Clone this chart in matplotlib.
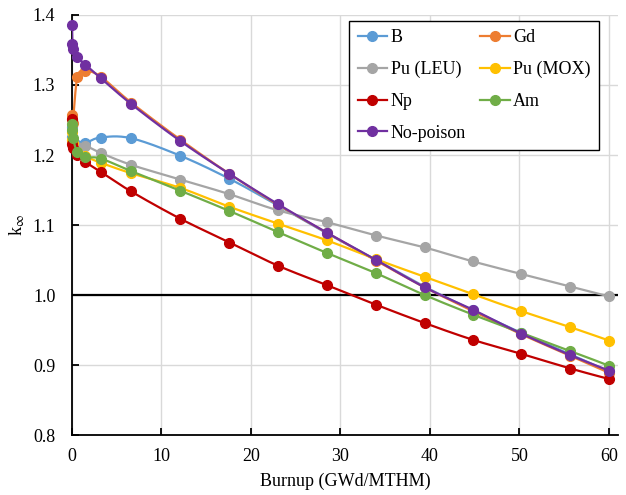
import numpy as np
import matplotlib
matplotlib.use("Agg")
import matplotlib.pyplot as plt
from matplotlib.lines import Line2D

plt.rcParams['font.family'] = ['Liberation Serif', 'DejaVu Serif']
plt.rcParams['mathtext.fontset'] = 'stix'

burnup = [0, 0.05, 0.1, 0.6, 1.5, 3.2, 6.6, 12.1, 17.6, 23.0, 28.5, 34.0, 39.4, 44.8, 50.2, 55.7, 60.0]

series_names = ["B", "Gd", "Pu (LEU)", "Pu (MOX)", "Np", "Am", "No-poison"]
k_B = [1.240, 1.226, 1.221, 1.215, 1.217, 1.225, 1.224, 1.199, 1.166, 1.128, 1.088, 1.050, 1.012, 0.978, 0.946, 0.915, 0.891]
k_Gd = [1.257, 1.251, 1.246, 1.311, 1.320, 1.312, 1.275, 1.222, 1.173, 1.129, 1.089, 1.049, 1.011, 0.977, 0.944, 0.913, 0.889]
k_PuLEU = [1.222, 1.216, 1.213, 1.211, 1.213, 1.203, 1.186, 1.165, 1.144, 1.121, 1.104, 1.085, 1.068, 1.048, 1.030, 1.012, 0.998]
k_PuMOX = [1.233, 1.222, 1.217, 1.205, 1.198, 1.189, 1.174, 1.153, 1.126, 1.102, 1.078, 1.051, 1.026, 1.001, 0.977, 0.954, 0.935]
k_Np = [1.252, 1.216, 1.210, 1.200, 1.190, 1.176, 1.148, 1.109, 1.075, 1.042, 1.014, 0.986, 0.960, 0.936, 0.916, 0.895, 0.880]
k_Am = [1.245, 1.236, 1.225, 1.204, 1.197, 1.195, 1.177, 1.149, 1.120, 1.090, 1.060, 1.031, 1.000, 0.972, 0.946, 0.920, 0.899]
k_None = [1.386, 1.358, 1.352, 1.340, 1.329, 1.310, 1.273, 1.220, 1.173, 1.130, 1.089, 1.050, 1.011, 0.979, 0.945, 0.914, 0.892]

colors = ["#5B9BD5", "#ED7D31", "#A5A5A5", "#FFC000", "#C00000", "#70AD47", "#7030A0"]
all_k = [k_B, k_Gd, k_PuLEU, k_PuMOX, k_Np, k_Am, k_None]

fig = plt.figure(figsize=(6.26, 4.95), dpi=100)
ax = fig.add_axes([0.115, 0.1212, 0.872, 0.8485])
ax.set_xlim(0, 61)
ax.set_ylim(0.8, 1.4)

ax.set_xticks([0, 10, 20, 30, 40, 50, 60])
ax.set_yticks([0.8, 0.9, 1.0, 1.1, 1.2, 1.3, 1.4])
ax.set_yticklabels([f"{v:.1f}" for v in [0.8, 0.9, 1.0, 1.1, 1.2, 1.3, 1.4]])
ax.grid(True, color="#D9D9D9", linewidth=1.0)
ax.set_axisbelow(True)
for s in ["top", "right"]:
    ax.spines[s].set_visible(False)
for s in ["left", "bottom"]:
    ax.spines[s].set_linewidth(1.3)
    ax.spines[s].set_color("black")
ax.tick_params(axis="both", direction="in", length=5, width=1.3, labelsize=13)
ax.tick_params(axis="y", pad=12)
ax.tick_params(axis="x", pad=9)

ax.axhline(1.0, color="black", linewidth=1.6, zorder=1.5)


def smooth(xs, ys, nseg=24):
    pts = ax.transData.transform(np.column_stack([xs, ys]))
    n = len(pts)
    out = [pts[0]]
    t = np.linspace(0, 1, nseg)[1:]
    for i in range(n - 1):
        p0 = pts[i - 1] if i > 0 else pts[i]
        p1 = pts[i]
        p2 = pts[i + 1]
        p3 = pts[i + 2] if i + 2 < n else pts[i + 1]
        c1 = p1 + (p2 - p0) / 6.0
        c2 = p2 - (p3 - p1) / 6.0
        seg = (((1 - t) ** 3)[:, None] * p1 + (3 * (1 - t) ** 2 * t)[:, None] * c1
               + (3 * (1 - t) * t ** 2)[:, None] * c2 + (t ** 3)[:, None] * p2)
        out.extend(seg)
    return ax.transData.inverted().transform(np.array(out))


handles = []
for idx, (name, ks, c) in enumerate(zip(series_names, all_k, colors)):
    z = 3 + idx
    cur = smooth(burnup, ks)
    ax.plot(cur[:, 0], cur[:, 1], color=c, linewidth=1.6, zorder=z, solid_capstyle="round")
    ax.plot(burnup, ks, linestyle="none", marker="o", markersize=7, color=c,
            markeredgecolor=c, zorder=z, clip_on=False)
    handles.append(Line2D([], [], color=c, linewidth=1.6, marker="o", markersize=7))

# row-wise ordering for a 2-column legend (matplotlib fills column by column)
order = [0, 2, 4, 6, 1, 3, 5]
leg = ax.legend([handles[i] for i in order], [series_names[i] for i in order],
                ncol=2, loc="upper right",
                bbox_to_anchor=(0.965, 0.986), borderaxespad=0.0,
                fontsize=13, frameon=True,
                fancybox=False, edgecolor="black", framealpha=1,
                handlelength=1.65, handletextpad=0.2, columnspacing=0.75,
                labelspacing=0.82, borderpad=0.45)
leg.get_frame().set_linewidth(1.0)
leg.set_zorder(20)

ax.set_xlabel("Burnup (GWd/MTHM)", fontsize=13, labelpad=6)
ax.set_ylabel(r"k$_{\infty}$", fontsize=13, labelpad=4)

fig.savefig("out.png", dpi=100)
